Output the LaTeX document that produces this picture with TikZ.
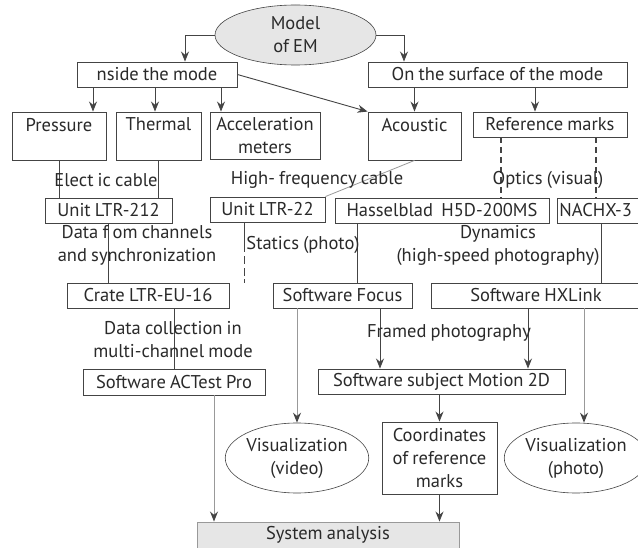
\documentclass[tikz,border=0pt]{standalone}
\usepackage{fontspec}
\setmainfont{PT Sans}[WordSpace=0.85]
\usetikzlibrary{arrows.meta,shapes.geometric}
\definecolor{ink}{HTML}{2A2A2A}
\definecolor{edge}{HTML}{444444}
\definecolor{lgray}{HTML}{E6E6E6}
\definecolor{wire}{HTML}{999999}
\tikzset{
  every node/.style={font=\fontsize{18.5}{23}\selectfont, text=ink},
  box/.style={draw=edge, line width=0.9pt, rectangle, inner sep=0pt, align=center, minimum height=25pt},
  tallbox/.style={box, minimum height=48pt},
  oval/.style={draw=edge, line width=0.6pt, ellipse, inner sep=0pt, align=center},
  lbl/.style={align=center, inner sep=0pt},
  arr/.style={draw=edge, line width=0.9pt, -{Stealth[length=10pt,width=8pt]}},
  garr/.style={draw=wire, line width=1pt, -{Stealth[length=10pt,width=8pt,color=edge]}},
  link/.style={draw=edge, line width=0.9pt},
  glink/.style={draw=wire, line width=0.8pt},
  dlink/.style={draw=edge, line width=1.6pt, dash pattern=on 6pt off 4pt}
}
\begin{document}
\begin{tikzpicture}[x=1pt,y=-1pt]
\useasboundingbox[fill=white] (0,0) rectangle (638,548);

% nodes
\node[oval, fill=lgray, minimum width=161pt, minimum height=60pt] (model) at (295.5,35) {Model\\of EM};
\node[box, minimum width=160pt] (inside) at (157,74.5) {nside the mode};
\node[box, minimum width=259pt] (surface) at (497.5,74.5) {On the surface of the mode};

\node[tallbox, minimum width=94pt] (pressure) at (59,136) {Pressure\\~};
\node[tallbox, minimum width=85pt] (thermal) at (158.5,136) {Thermal\\~};
\node[tallbox, minimum width=110pt, minimum height=47pt] (accel) at (265,135.5) {Acceleration\\meters};
\node[tallbox, minimum width=93pt] (acoustic) at (414.5,136) {Acoustic\\~};
\node[box, minimum width=154pt] (refmarks) at (550,124.5) {Reference marks};

\node[box, minimum width=127pt] (ltr212) at (108.5,210.5) {Unit LTR-212};
\node[box, minimum width=115pt] (ltr22) at (267.5,209.5) {Unit LTR-22};
\node[box, minimum width=214pt] (hassel) at (442,210.5) {Hasselblad\ \ H5D-200MS};
\node[box, anchor=west, minimum width=130pt, text width=126pt, align=left] (nachx) at (557,210.5) {NACHX-3};

\node[box, minimum width=162pt] (crate) at (148,295.5) {Crate\ LTR-EU-16};
\node[box, minimum width=139pt] (focus) at (342.5,295.5) {Software Focus};
\node[box, minimum width=210pt] (hxlink) at (536,295.5) {Software HXLink};

\node[box, minimum width=182pt, minimum height=26pt] (actest) at (174,382) {Software ACTest Pro};
\node[box, minimum width=247pt] (motion) at (441.5,381.5) {Software subject Motion 2D};

\node[oval, minimum width=128pt, minimum height=70pt] (vizvideo) at (297,458) {Visualization\\(video)};
\node[box, minimum width=115pt, minimum height=72pt] (coords) at (439.5,458) {Coordinates\\of reference\\marks};
\node[oval, minimum width=124pt, minimum height=70pt] (vizphoto) at (576,458) {Visualization\\(photo)};

\node[box, fill=lgray, draw=wire, minimum width=262pt, minimum height=26pt] (sysan) at (328,535) {System analysis};

% connectors
\draw[arr] (model.west) -| ([xshift=28pt]inside.north);
\draw[arr] (model.east) -| ([xshift=-93.5pt]surface.north);

\draw[arr] ([xshift=-64pt]inside.south) -- ([xshift=-64pt]inside.south |- pressure.north);
\draw[arr] ([xshift=-2pt]inside.south) -- ([xshift=-2pt]inside.south |- thermal.north);
\draw[arr] ([xshift=64pt]inside.south) -- ([xshift=64pt]inside.south |- accel.north);
\draw[arr] (inside.east) -- (acoustic.north west);
\draw[arr] (surface.south -| acoustic.north) -- (acoustic.north);
\draw[arr] ([xshift=-15pt]refmarks.north |- surface.south) -- ([xshift=-15pt]refmarks.north);

\draw[link] (pressure.south) -- (pressure.south |- ltr212.north);
\draw[link] (thermal.south) -- (thermal.south |- ltr212.north);
\draw[glink] (acoustic.south) -- (ltr22.north east);
\draw[dlink] ([xshift=-49pt]refmarks.south) -- ([xshift=-49pt]refmarks.south |- hassel.north);
\draw[dlink] ([xshift=46pt]refmarks.south) -- ([xshift=46pt]refmarks.south |- nachx.north);

\draw[link] (ltr212.south) -- (ltr212.south |- crate.north);
\coordinate (ltrend) at ([xshift=-23.5pt]ltr22.south |- crate.north);
\draw[link, dash pattern=on 30pt off 4pt on 8pt off 4pt on 8pt off 3pt on 8pt] ([xshift=-23.5pt]ltr22.south) -- (ltrend);
\draw[link] ([xshift=-84.5pt]hassel.south) -- ([xshift=-84.5pt]hassel.south |- focus.north);
\draw[link] ([xshift=44pt]nachx.south west) -- ([xshift=44pt]nachx.south west |- hxlink.north);

\draw[link] (actest.north |- crate.south) -- (actest.north);
\draw[garr] ([xshift=40pt]actest.south) -- ([xshift=40pt]actest.south |- sysan.north);
\draw[garr] (vizvideo.north |- focus.south) -- (vizvideo.north);
\draw[arr] ([xshift=37.5pt]focus.south) -- ([xshift=37.5pt]focus.south |- motion.north);
\draw[arr] ([xshift=-8pt]hxlink.south) -- ([xshift=-8pt]hxlink.south |- motion.north);
\draw[garr] ([xshift=48pt]hxlink.south) -- ([xshift=48pt]hxlink.south |- vizphoto.north);
\draw[arr] (motion.south -| coords.north) -- (coords.north);
\draw[arr] (coords.south) -- (coords.south |- sysan.north);

% labels
\node[lbl] (lcable) at (106,180) {Elect ic cable};
\node[lbl] (lhf) at (317,180) {High- frequency cable};
\node[lbl] (lopt) at (548,180) {Optics (visual)};
\node[lbl] (ldata) at (137,245.5) {Data f om channels\\and synchronization};
\node[lbl] (lstat) at (303,245) {Statics (photo)};
\node[lbl] (ldyn) at (498,245.5) {Dynamics\\(high-speed photography)};
\node[lbl] (lcoll) at (173,339.5) {Data collection in\\multi-channel mode};
\node[lbl] (lframe) at (449,333) {Framed photography};
\end{tikzpicture}
\end{document}
